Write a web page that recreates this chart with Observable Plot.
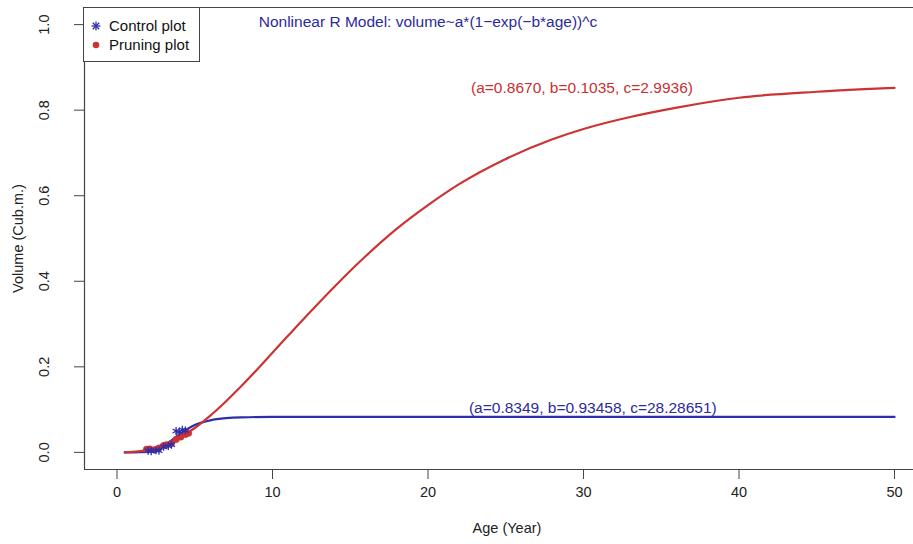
<!DOCTYPE html>
<html>
<head>
<meta charset="utf-8">
<script src="https://cdn.jsdelivr.net/npm/d3@7"></script>
<script src="https://cdn.jsdelivr.net/npm/@observablehq/plot@0.6"></script>
<style>
  html, body { margin: 0; padding: 0; background: #fff; }
  #wrap { position: relative; width: 913px; height: 544px; font-family: "Liberation Sans", Arial, sans-serif; }
  #legend { position: absolute; left: 83px; top: 7px; width: 117px; height: 55px; border: 1px solid #444; background: #fff; box-sizing: border-box; font-size: 15px; color: #111; }
  #legend .item { position: absolute; left: 6px; display: flex; align-items: center; }
  #legend .item span { margin-left: 7px; }
</style>
</head>
<body>
<div id="wrap"></div>
<script>
// ---- data ----
const curveAges      = [0.5, 1, 2, 3, 4, 5, 6, 7, 8, 10, 12, 14, 16, 18, 20, 22, 25, 28, 30, 33, 36, 40, 45, 50];
const pruningCurve   = [0.000, 0.001, 0.006, 0.016, 0.034, 0.057, 0.086, 0.119, 0.155, 0.233, 0.312, 0.388, 0.459, 0.523, 0.578, 0.627, 0.686, 0.732, 0.756, 0.784, 0.806, 0.829, 0.843, 0.852];
const controlCurve   = [0.000, 0.000, 0.001, 0.014, 0.042, 0.064, 0.075, 0.080, 0.082, 0.083, 0.083, 0.083, 0.083, 0.083, 0.083, 0.083, 0.083, 0.083, 0.083, 0.083, 0.083, 0.083, 0.083, 0.083];

const controlAges    = [2.0, 2.2, 2.5, 2.7, 3.0, 3.3, 3.5, 3.8, 4.0, 4.2, 4.4];
const controlVolumes = [0.004, 0.003, 0.005, 0.004, 0.013, 0.015, 0.018, 0.050, 0.048, 0.053, 0.051];
const pruningAges    = [1.9, 2.1, 2.4, 2.7, 3.0, 3.2, 3.5, 3.8, 4.1, 4.4, 4.6];
const pruningVolumes = [0.007, 0.008, 0.006, 0.010, 0.016, 0.018, 0.021, 0.030, 0.036, 0.042, 0.045];

const xTicks = [0, 10, 20, 30, 40, 50];
const yTicks = [0.0, 0.2, 0.4, 0.6, 0.8, 1.0];
const xDomain = [-2.09, 51.22];
const yDomain = [-0.04, 1.04];

const titleText = "Nonlinear R Model: volume~a*(1\u2212exp(\u2212b*age))^c";
const pruningLabel = "(a=0.8670, b=0.1035, c=2.9936)";
const controlLabel = "(a=0.8349, b=0.93458, c=28.28651)";
const labelAges    = [20.0, 29.9, 30.6];
const labelVolumes = [1.005, 0.852, 0.103];
const labelTexts   = [titleText, pruningLabel, controlLabel];
const labelColors  = ["#2b2b9c", "#c9302f", "#2b2b9c"];

const xTitle = "Age (Year)";
const yTitle = "Volume (Cub.m.)";

const RED = "#cc3333";
const BLUE = "#2e2eaa";

// ---- tables built from arrays ----
const curves = curveAges.flatMap((a, i) => [
  {age: a, v: controlCurve[i], s: "Control"},
  {age: a, v: pruningCurve[i], s: "Pruning"}
]);
const control = controlAges.map((a, i) => ({age: a, v: controlVolumes[i]}));
const pruning = pruningAges.map((a, i) => ({age: a, v: pruningVolumes[i]}));
const labels = labelTexts.map((t, i) => ({age: labelAges[i], v: labelVolumes[i], t, c: labelColors[i]}));

const chart = Plot.plot({
  width: 913,
  height: 544,
  marginLeft: 84,
  marginRight: 0,
  marginTop: 7,
  marginBottom: 75,
  style: {fontFamily: "Liberation Sans, Arial, sans-serif", fontSize: "14px", color: "#222", background: "#fff"},
  x: {domain: xDomain, axis: null},
  y: {domain: yDomain, axis: null},
  marks: [
    Plot.ruleX([xDomain[0]], {stroke: "#444", strokeWidth: 1.2}),
    Plot.ruleY([yDomain[0], yDomain[1]], {stroke: "#444", strokeWidth: 1.2}),
    Plot.axisX({ticks: xTicks, tickSize: 10, tickPadding: 7, tickFormat: d => String(d), label: null, stroke: "#444", fill: "#222", fontSize: 14.5}),
    Plot.axisY({ticks: yTicks, tickSize: 10, tickFormat: () => "", label: null, stroke: "#444"}),
    Plot.text(yTicks, {y: d => d, frameAnchor: "left", dx: -40, rotate: -90, textAnchor: "middle", lineAnchor: "middle", text: d => d.toFixed(1), fill: "#222", fontSize: 14.5}),
    Plot.text([xTitle], {frameAnchor: "bottom", dx: 8, dy: 63, text: d => d, fill: "#222", fontSize: 14.5}),
    Plot.text([yTitle], {frameAnchor: "left", dx: -66, rotate: -90, textAnchor: "middle", lineAnchor: "middle", text: d => d, fill: "#222", fontSize: 14.5}),
    Plot.line(curves, {x: "age", y: "v", z: "s", stroke: d => d.s === "Control" ? BLUE : RED, strokeWidth: 2.2, curve: "monotone-x"}),
    Plot.dot(pruning, {x: "age", y: "v", r: 3.3, fill: RED, stroke: RED, strokeWidth: 0.5}),
    Plot.dot(control, {x: "age", y: "v", r: 3.8, symbol: "asterisk", stroke: BLUE, strokeWidth: 1.3}),
    Plot.text(labels, {x: "age", y: "v", text: "t", fill: "c", fontSize: 15.5})
  ]
});

const wrap = document.getElementById("wrap");
wrap.appendChild(chart);

const legend = document.createElement("div");
legend.id = "legend";
legend.innerHTML = `
  <div class="item" style="top:9px">
    <svg width="12" height="12" viewBox="-6 -6 12 12"><g stroke="${BLUE}" stroke-width="1.3">
      <line x1="-4.5" y1="0" x2="4.5" y2="0"/><line x1="0" y1="-4.5" x2="0" y2="4.5"/>
      <line x1="-3.2" y1="-3.2" x2="3.2" y2="3.2"/><line x1="-3.2" y1="3.2" x2="3.2" y2="-3.2"/></g></svg>
    <span>Control plot</span></div>
  <div class="item" style="top:28px">
    <svg width="12" height="12" viewBox="-6 -6 12 12"><circle r="3.3" fill="${RED}"/></svg>
    <span>Pruning plot</span></div>`;
wrap.appendChild(legend);
</script>
</body>
</html>
